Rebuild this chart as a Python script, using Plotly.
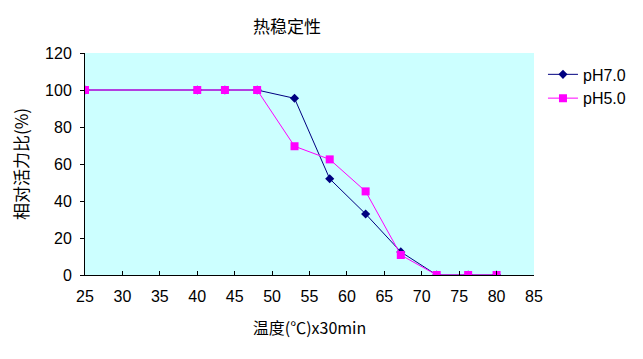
import plotly.graph_objects as go

temps = [25, 40, 43.7, 48, 53, 57.7, 62.5, 67.2, 72, 76.2, 80]
ph7 = [100, 100, 100, 100, 95.5, 52, 33, 12.5, 0, 0, 0]
ph5 = [100, 100, 100, 100, 69.6, 62.5, 45.2, 10.8, 0, 0, 0]

x_ticks = list(range(25, 90, 5))
y_ticks = list(range(0, 140, 20))

num_font = "Liberation Sans, Arial, sans-serif"
cjk_font = "Noto Sans CJK SC, sans-serif"

fig = go.Figure()
fig.add_trace(go.Scatter(
    x=temps, y=ph7, name="pH7.0", mode="lines+markers", legendgroup="a",
    line=dict(color="#000080", width=1),
    marker=dict(symbol="diamond", size=7, color="#000080"),
))
fig.add_trace(go.Scatter(
    x=temps, y=ph5, name="pH5.0", mode="lines+markers", legendgroup="b",
    line=dict(color="#FF00FF", width=1),
    marker=dict(symbol="square", size=8, color="#FF00FF"),
))

fig.update_layout(
    width=635, height=351,
    margin=dict(l=77, r=109, t=45, b=84),
    paper_bgcolor="white",
    plot_bgcolor="#CCFFFF",
    title=dict(text="热稳定性", x=279/635, xanchor="center", y=1-19/351, yanchor="middle",
               font=dict(family=cjk_font, size=17, color="black")),
    xaxis=dict(
        range=[25, 85], tickvals=x_ticks, ticktext=[str(v) for v in x_ticks],
        showline=True, linecolor="black", linewidth=1,
        ticks="inside", ticklen=4, tickcolor="black",
        showgrid=False, zeroline=False, ticklabelstandoff=7,
        tickfont=dict(family=num_font, size=16, color="black"),
        title=dict(text="温度(℃)x30min", font=dict(family=cjk_font, size=16, color="black"), standoff=18),
    ),
    yaxis=dict(
        range=[0, 120], tickvals=y_ticks, ticktext=[str(v) for v in y_ticks],
        showline=True, linecolor="black", linewidth=1,
        ticks="outside", ticklen=4, tickcolor="black",
        showgrid=False, zeroline=False, ticklabelstandoff=5,
        tickfont=dict(family=num_font, size=16, color="black"),
        title=dict(text="相对活力比(%)", font=dict(family=cjk_font, size=17, color="black"), standoff=14),
    ),
    legend=dict(x=1.02, y=0.98, xanchor="left", yanchor="top",
                font=dict(family=num_font, size=16, color="black"),
                bgcolor="rgba(0,0,0,0)", tracegroupgap=0, itemwidth=30),
    showlegend=True,
)

fig.write_html("out.html")
